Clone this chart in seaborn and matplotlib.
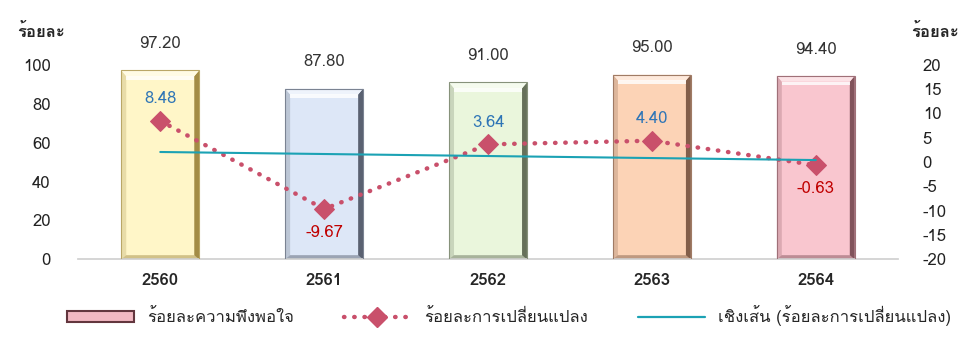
import numpy as np
import pandas as pd
import matplotlib
matplotlib.use('Agg')
import matplotlib.pyplot as plt
import seaborn as sns
from matplotlib import font_manager
from matplotlib.ft2font import FT2Font
from matplotlib.patches import Patch, Polygon, Rectangle
from matplotlib.lines import Line2D

years = ['2560', '2561', '2562', '2563', '2564']
satisfaction = [97.20, 87.80, 91.00, 95.00, 94.40]
change = [8.48, -9.67, 3.64, 4.40, -0.63]
bar_colors = ['#FFF6C8', '#DDE7F7', '#EAF6DC', '#FCD3B6', '#F9C6CF']
edge_colors = ['#8C7226', '#39404F', '#454F3A', '#63412F', '#63363E']

# หาฟอนต์ที่มีอักษรไทย
thai_font = None
for f in font_manager.fontManager.ttflist:
    try:
        if FT2Font(f.fname).get_char_index(ord('ร')) != 0:
            thai_font = f.name
            break
    except Exception:
        pass

sns.set_theme(style='white')
fams = [thai_font, 'DejaVu Sans'] if thai_font else ['DejaVu Sans']
plt.rcParams['font.family'] = fams
plt.rcParams['axes.unicode_minus'] = False

df = pd.DataFrame({'year': years, 'sat': satisfaction, 'chg': change})

fig, ax = plt.subplots(figsize=(9.79, 3.38), dpi=100)
fig.subplots_adjust(left=0.08, right=0.917, top=0.808, bottom=0.233)

sns.barplot(data=df, x='year', y='sat', ax=ax, width=0.475, palette=bar_colors,
            hue='year', legend=False, linewidth=0, saturation=1)


def bevel(axis, x0, w, h, face, edge, bx=0.03, by=3.0):
    # ขอบนูนแบบ Excel: บนสว่าง ซ้ายกลาง ขวาเข้ม ล่างกลาง
    x1 = x0 + w
    mix = sns.blend_palette([face, edge], 6)
    top = sns.blend_palette([face, '#FFFFFF'], 3)[1]
    sides = [
        ([(x0, 0), (x0, h), (x0 + bx, h - by), (x0 + bx, 0)], mix[1]),
        ([(x1, 0), (x1, h), (x1 - bx, h - by), (x1 - bx, 0)], mix[4]),
        ([(x0, 0), (x1, 0), (x1 - bx, by * 0.7), (x0 + bx, by * 0.7)], mix[2]),
        ([(x0, h), (x1, h), (x1 - bx, h - by), (x0 + bx, h - by)], top),
    ]
    for pts, c in sides:
        axis.add_patch(Polygon(pts, closed=True, facecolor=c, edgecolor='none', zorder=2.5))
    axis.add_patch(Rectangle((x0 + bx, h - by - 1.8), w - 2 * bx, 1.8, facecolor='white',
                             edgecolor='none', alpha=0.8, zorder=2.5))
    axis.add_patch(Rectangle((x0, 0), w, h, facecolor='none', edgecolor=mix[3],
                             linewidth=0.8, zorder=2.6))


for bar, fc, ec in zip(ax.patches, bar_colors, edge_colors):
    bevel(ax, bar.get_x(), bar.get_width(), bar.get_height(), fc, ec)

ax.set_ylim(0, 100)
ax.set_yticks(range(0, 101, 20))
ax.set_xlabel('')
ax.set_ylabel('')
ax.tick_params(axis='y', labelsize=12, colors='#222222', pad=20, length=0)
ax.tick_params(axis='x', labelsize=12, pad=10, length=0)
for lbl in ax.get_xticklabels():
    lbl.set_fontweight('bold')
for s in ['top', 'right', 'left']:
    ax.spines[s].set_visible(False)
ax.spines['bottom'].set_color('#D0D0D0')
for i, v in enumerate(satisfaction):
    ax.text(i, v + 13.5, f'{v:.2f}', ha='center', va='center', fontsize=12,
            color='#333333', clip_on=False)
ax.text(-0.045, 1.17, 'ร้อยละ', transform=ax.transAxes, ha='center', va='center',
        fontsize=12, fontweight='bold')

ax2 = ax.twinx()
sns.lineplot(x=np.arange(len(years)), y=change, ax=ax2, color='#C9506B',
             linestyle=(0, (0.1, 2.2)), linewidth=3.2, dash_capstyle='round',
             marker='D', markersize=10, markeredgecolor='#C9506B')
sns.regplot(x=np.arange(len(years)), y=np.array(change), ax=ax2, ci=None,
            scatter=False, truncate=True,
            line_kws={'color': '#1BA2B4', 'linewidth': 1.5})
ax2.set_ylim(-20, 20)
ax2.set_yticks(range(-20, 21, 5))
ax2.tick_params(axis='y', labelsize=12, colors='#222222', pad=18, length=0)
ax2.set_xlabel('')
ax2.set_ylabel('')
for s in ax2.spines.values():
    s.set_visible(False)
for i, v in enumerate(change):
    if v >= 0:
        ax2.text(i, v + 4.5, f'{v:.2f}', ha='center', va='center', fontsize=12,
                 color='#2E75B6')
    else:
        ax2.text(i, v - 5.0, f'{v:.2f}', ha='center', va='center', fontsize=12,
                 color='#C00000')
ax2.text(1.045, 1.17, 'ร้อยละ', transform=ax2.transAxes, ha='center', va='center',
         fontsize=12, fontweight='bold')
ax.set_xlim(-0.5, 4.5)

handles = [
    Patch(facecolor='#F2B8C2', edgecolor='#63363E', linewidth=1.5),
    Line2D([0], [0], color='#C9506B', linestyle=(0, (0.1, 2.2)), linewidth=3.2,
           dash_capstyle='round', marker='D', markersize=10),
    Line2D([0], [0], color='#1BA2B4', linewidth=1.6),
]
labels = ['ร้อยละความพึงพอใจ', 'ร้อยละการเปลี่ยนแปลง', 'เชิงเส้น (ร้อยละการเปลี่ยนแปลง)']
fig.legend(handles, labels, loc='lower center', bbox_to_anchor=(0.52, -0.01), ncol=3,
           frameon=False, fontsize=12, handlelength=4, columnspacing=3)

fig.savefig('out.png', dpi=100)
